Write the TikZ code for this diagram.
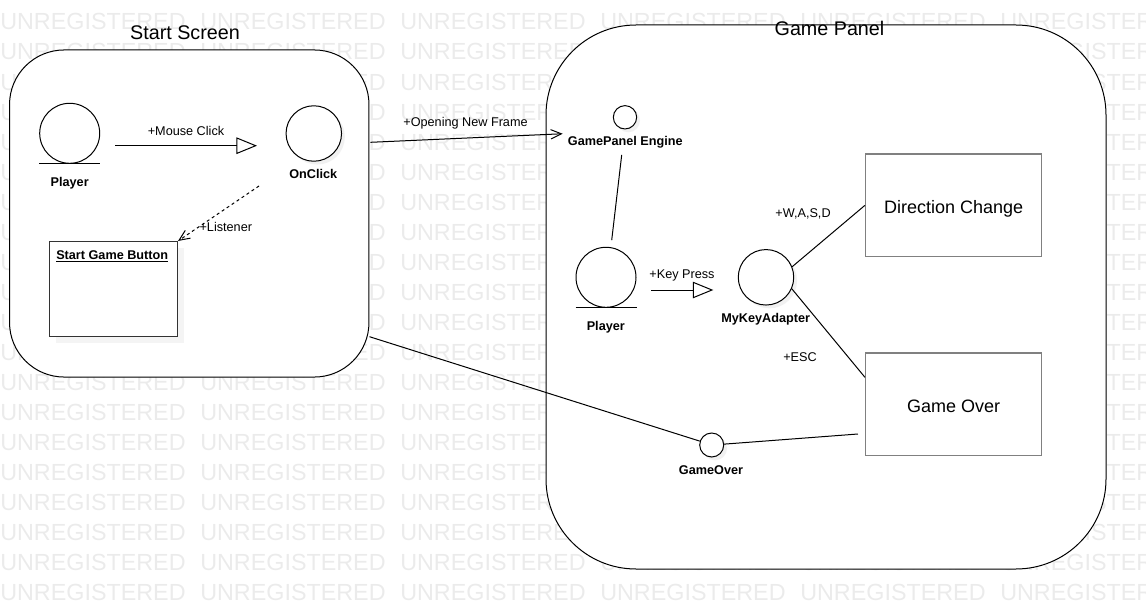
\documentclass[tikz,border=0pt]{standalone}
\usepackage{fontspec}
\setmainfont{Liberation Sans}
\usepackage{tikz}
\usetikzlibrary{arrows.meta,calc,shadows}

\tikzset{
  wmark/.style={text=black!8, font=\fontsize{17.5}{20}\selectfont, anchor=base west, inner sep=0pt},
  frame/.style={draw, fill=white, line width=0.75pt, inner sep=0pt},
  title/.style={font=\fontsize{14.8}{17}\selectfont, anchor=base, inner sep=0pt},
  lbl/.style={font=\fontsize{9.5}{11}\selectfont, anchor=base, inner sep=0pt},
  blbl/.style={font=\fontsize{9.5}{11}\selectfont\bfseries, anchor=base, inner sep=0pt},
  actor/.style={draw, circle, minimum size=45pt, inner sep=0pt, line width=0.75pt},
  obj/.style={draw, circle, fill=white, inner sep=0pt, line width=0.75pt,
    drop shadow={shadow xshift=2.5pt, shadow yshift=-2.5pt, fill=black!10}},
  statebox/.style={draw={rgb,255:red,128;green,128;blue,128}, fill=white, line width=1.1pt,
    minimum width=132pt, minimum height=77pt, text height=12pt, text depth=0pt,
    font=\fontsize{13.5}{16}\selectfont},
  link/.style={line width=0.75pt},
  msg/.style={link, -{Triangle[open, length=15.4pt, width=12.4pt]}},
  call/.style={link, -{Straight Barb[length=8pt, width=7pt]}}
}

\begin{document}
\begin{tikzpicture}[x=0.75pt,y=0.75pt,yscale=-1,xscale=1]
\useasboundingbox (0,0) rectangle (1146,610);

% Watermark
\begin{scope}
\clip (0,0) rectangle (1146,610);
\foreach \row in {0,...,19}
  \foreach \col in {0,...,5}
    \node [wmark] at (\col*200, 30+\row*30) {UNREGISTERED};
\end{scope}

%Shape: Rounded Rect
\node [frame, rounded corners=41pt, minimum width=269.6pt, minimum height=245.3pt] (startscr) at (189.25,213.5) {};
\node [frame, rounded corners=67.5pt, minimum width=420pt, minimum height=408pt] (gamepanel) at (826,297) {};

% Text Node
\node [title] (startscrlbl) at (185,40) {Start Screen};
\node [title] (gamepanellbl) at (829.5,35.5) {Game Panel};

%Shape: Circle
\node [actor] (ssplayer) at (69.7,133.3) {};
\draw [link] ($(ssplayer.south)+(-30.5,0)$) -- ($(ssplayer.south)+(30.5,0)$);
\node [obj, minimum size=41.6pt] (onclick) at (313.8,133.5) {};

%Shape: Rectangle
\node [draw={rgb,255:red,51;green,51;blue,51}, fill=white, line width=1.1pt, minimum width=96pt, minimum height=71.25pt,
  drop shadow={shadow xshift=5pt, shadow yshift=-5pt, fill=black!8}] (sgb) at (113.3,289.2) {};

% Text Node
\node [blbl] (ssplayerlbl) at (69.7,186) {Player};
\node [blbl] (onclicklbl) at (313.3,178.3) {OnClick};
\node [blbl, anchor=base west] (sgblbl) at (56,259) {\underline{Start Game Button}};
\node [lbl] (mouseclicklbl) at (186,135) {+Mouse Click};
\node [lbl, anchor=base west] (listenerlbl) at (199.3,231.7) {+Listener};

%Straight Lines
\coordinate (mcA) at (115,145.7);
\coordinate (mcB) at (257,145.7);
\draw [msg] (mcA) -- (mcB);
\coordinate (lsA) at (259,186);
\draw [call, dash pattern=on 2.25pt off 2.25pt] (lsA) -- (sgb.north east);

%Shape: Circle
\node [obj, minimum size=17.5pt] (gpengine) at (625,117.3) {};
\node [actor] (gpplayer) at (606,277.3) {};
\draw [link] ($(gpplayer.south)+(-30.5,0)$) -- ($(gpplayer.south)+(30.5,0)$);
\node [obj, minimum size=41.6pt] (mka) at (766,277.3) {};
\node [obj, minimum size=18pt] (gocircle) at (711.7,445) {};

%Shape: Rectangle
\node [statebox] (dirchange) at (953.7,205.3) {Direction Change};
\node [statebox] (gameoverbox) at (953.7,404.4) {Game Over};

% Text Node
\node [blbl] (gpenginelbl) at (625.3,146) {GamePanel Engine};
\node [blbl] (gpplayerlbl) at (605.8,330) {Player};
\node [blbl] (mkalbl) at (765.7,322.7) {MyKeyAdapter};
\node [blbl] (gocirclelbl) at (711,474) {GameOver};
\node [lbl] (openlbl) at (465.5,127) {+Opening New Frame};
\node [lbl] (keypresslbl) at (682,278.7) {+Key Press};
\node [lbl] (wasdlbl) at (803,217.7) {+W,A,S,D};
\node [lbl] (esclbl) at (800,361.7) {+ESC};

%Straight Lines
\draw [call] ($(startscr.east)+(1,-71.2)$) -- ($(gpenginelbl.west)+(-5,-9)$);
\coordinate (kpA) at (651,290);
\coordinate (kpB) at (713.3,290);
\draw [msg] (kpA) -- (kpB);
\draw [link] ($(gpenginelbl.south)+(-3.6,6)$) -- ($(gpplayer.north)+(5.7,-6.6)$);
\draw [link] (mka.22) -- (dirchange.west);
\draw [link] (mka.-24) -- ($(gameoverbox.north west)+(0,25)$);
\draw [link] (gocircle.162) -- ($(startscr.east)+(0,123.2)$);
\draw [link] (gocircle.4) -- ($(gameoverbox.west)+(-7,29.6)$);

\end{tikzpicture}
\end{document}
